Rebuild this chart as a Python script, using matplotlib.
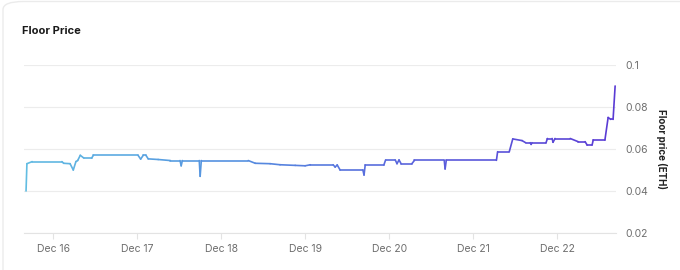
import matplotlib
matplotlib.use("Agg")
import matplotlib.pyplot as plt
import matplotlib.dates as mdates
from matplotlib.collections import LineCollection
from matplotlib.colors import LinearSegmentedColormap
from matplotlib.patches import FancyBboxPatch
import numpy as np
import pandas as pd

# floor price readings (ETH)
times = [
    "2022-12-15 16:15", "2022-12-15 16:30", "2022-12-15 18:00", "2022-12-16 02:30",
    "2022-12-16 03:00", "2022-12-16 04:50", "2022-12-16 05:45", "2022-12-16 06:30",
    "2022-12-16 07:00", "2022-12-16 07:45", "2022-12-16 08:45", "2022-12-16 11:00",
    "2022-12-16 11:30", "2022-12-17 00:15", "2022-12-17 01:00", "2022-12-17 01:45",
    "2022-12-17 02:30", "2022-12-17 03:10", "2022-12-17 06:00", "2022-12-17 09:30",
    "2022-12-17 12:15", "2022-12-17 12:35", "2022-12-17 12:55", "2022-12-17 17:45",
    "2022-12-17 18:00", "2022-12-17 18:20", "2022-12-18 07:45", "2022-12-18 09:45",
    "2022-12-18 14:00", "2022-12-18 16:50", "2022-12-18 21:10", "2022-12-19 00:00",
    "2022-12-19 01:30", "2022-12-19 08:00", "2022-12-19 08:35", "2022-12-19 09:10",
    "2022-12-19 10:00", "2022-12-19 16:30", "2022-12-19 16:50", "2022-12-19 17:10",
    "2022-12-19 22:30", "2022-12-19 23:00", "2022-12-20 01:45", "2022-12-20 02:15",
    "2022-12-20 02:50", "2022-12-20 03:25", "2022-12-20 06:30", "2022-12-20 07:15",
    "2022-12-20 15:45", "2022-12-20 16:00", "2022-12-20 16:20", "2022-12-21 06:40",
    "2022-12-21 07:00", "2022-12-21 10:20", "2022-12-21 11:20", "2022-12-21 14:00",
    "2022-12-21 15:00", "2022-12-21 16:20", "2022-12-21 16:35", "2022-12-21 16:50",
    "2022-12-21 20:50", "2022-12-21 21:15", "2022-12-21 22:35", "2022-12-21 22:50",
    "2022-12-21 23:25", "2022-12-22 03:45", "2022-12-22 06:00", "2022-12-22 08:00",
    "2022-12-22 08:35", "2022-12-22 10:00", "2022-12-22 10:20", "2022-12-22 13:40",
    "2022-12-22 14:35", "2022-12-22 15:20", "2022-12-22 16:00", "2022-12-22 16:35",
]
prices = [
    0.0400, 0.0530, 0.0540, 0.0540,
    0.0532, 0.0530, 0.0500, 0.0540,
    0.0545, 0.0570, 0.0557, 0.0557,
    0.0570, 0.0570, 0.0552, 0.0570,
    0.0570, 0.0553, 0.0550, 0.0545,
    0.0545, 0.0520, 0.0545, 0.0545,
    0.0470, 0.0545, 0.0545, 0.0532,
    0.0530, 0.0525, 0.0522, 0.0520,
    0.0525, 0.0525, 0.0514, 0.0524,
    0.0500, 0.0500, 0.0476, 0.0524,
    0.0524, 0.0548, 0.0548, 0.0530,
    0.0548, 0.0530, 0.0530, 0.0546,
    0.0546, 0.0505, 0.0546, 0.0546,
    0.0587, 0.0587, 0.0648, 0.0640,
    0.0630, 0.0630, 0.0622, 0.0630,
    0.0630, 0.0650, 0.0650, 0.0632,
    0.0650, 0.0650, 0.0635, 0.0635,
    0.0619, 0.0619, 0.0643, 0.0643,
    0.0750, 0.0741, 0.0741, 0.0900,
]
day_ticks = ["2022-12-16", "2022-12-17", "2022-12-18", "2022-12-19",
             "2022-12-20", "2022-12-21", "2022-12-22"]
y_ticks = [0.02, 0.04, 0.06, 0.08, 0.1]

plt.rcParams["font.family"] = ["Inter", "DejaVu Sans"]

fig = plt.figure(figsize=(6.8, 2.7), dpi=100)
fig.patch.set_facecolor("white")

# card border, open to the right and bottom
card = FancyBboxPatch((3 / 680, -0.2), 1.5, 1.2 - 1.5 / 270,
                      boxstyle="round,pad=0,rounding_size=0.03",
                      transform=fig.transFigure, facecolor="white",
                      edgecolor="#ebebeb", linewidth=1.0, zorder=-10)
fig.patches.append(card)

ax = fig.add_axes([24 / 680, 37 / 270, (616 - 24) / 680, (233 - 65) / 270])
ax.set_facecolor("none")

x = mdates.date2num(pd.to_datetime(times))
y = np.array(prices)
pts = np.column_stack([x, y]).reshape(-1, 1, 2)
segs = np.concatenate([pts[:-1], pts[1:]], axis=1)
cmap = LinearSegmentedColormap.from_list("floor", ["#62bde2", "#5592e0", "#5a62dc", "#5a3bd4"])
lc = LineCollection(segs, cmap=cmap, linewidth=1.2, capstyle="round", joinstyle="round", zorder=3)
lc.set_array((x[:-1] + x[1:]) / 2)
lc.set_clim(x.min(), x.max())
ax.add_collection(lc)

ax.set_xlim(mdates.date2num(pd.Timestamp("2022-12-15 15:40")),
            mdates.date2num(pd.Timestamp("2022-12-22 16:50")))
ax.set_ylim(0.02, 0.1)

ax.yaxis.tick_right()
ax.set_yticks(y_ticks)
ax.set_yticklabels(["0.02", "0.04", "0.06", "0.08", "0.1"])
ax.set_xticks(mdates.date2num(pd.to_datetime(day_ticks)))
ax.set_xticklabels([pd.Timestamp(d).strftime("Dec %d").replace(" 0", " ") for d in day_ticks])
ax.tick_params(axis="y", length=0, pad=7, labelsize=7.5, labelcolor="#6e6e6e")
ax.tick_params(axis="x", length=4, width=0.8, color="#e3e3e3", pad=4,
               labelsize=7.5, labelcolor="#6e6e6e")
ax.grid(axis="y", color="#ececec", linewidth=0.8)
for s in ["top", "left", "right"]:
    ax.spines[s].set_visible(False)
ax.spines["bottom"].set_color("#e3e3e3")
ax.spines["bottom"].set_linewidth(0.8)

fig.text(661 / 680, 1 - 149 / 270, "Floor price (ETH)", rotation=-90,
         ha="center", va="center", fontsize=7, fontweight="bold", color="#222222")
fig.text(22 / 680, 1 - 31 / 270, "Floor Price", ha="left", va="center",
         fontsize=8, fontweight="bold", color="#1a1a1a")

fig.savefig("out.png", dpi=100, facecolor="white")
